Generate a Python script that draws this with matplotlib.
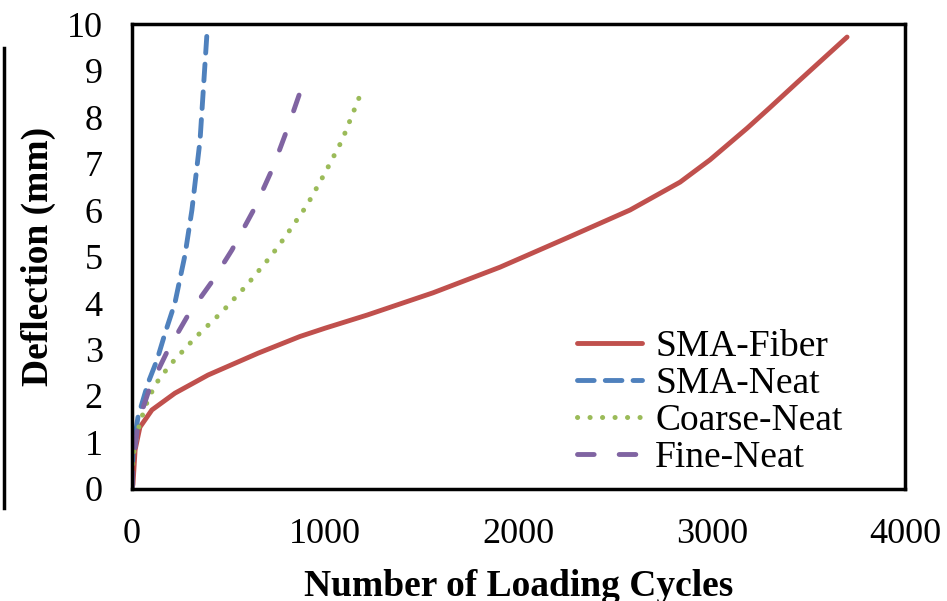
import matplotlib.pyplot as plt
from matplotlib.lines import Line2D

plt.rcParams['font.family'] = ['Liberation Serif', 'DejaVu Serif']
plt.rcParams['lines.scale_dashes'] = False

# Values
fiber_x = [0, 5, 16, 41, 103, 222, 393, 652, 869, 1000, 1216, 1558, 1904,
           2251, 2577, 2836, 2991, 3183, 3300, 3441, 3700]
fiber_y = [0, 0.1, 0.84, 1.33, 1.70, 2.06, 2.45, 2.92, 3.28, 3.46, 3.74, 4.22,
           4.77, 5.40, 6.0, 6.6, 7.08, 7.76, 8.2, 8.74, 9.72]

sma_neat_x = [0, 5, 31, 83, 129, 171, 222, 274, 310, 352, 388]
sma_neat_y = [0, 0.84, 1.55, 2.28, 2.77, 3.35, 4.0, 5.03, 6.0, 7.5, 9.81]

coarse_x = [0, 5, 31, 67, 119, 197, 326, 466, 595, 719, 792, 905, 999, 1087, 1185]
coarse_y = [0, 0.69, 1.27, 1.76, 2.24, 2.67, 3.25, 3.81, 4.39, 5.01, 5.42, 6.1, 6.8, 7.5, 8.52]

fine_x = [0, 5, 31, 93, 186, 290, 419, 517, 637, 730, 807, 895]
fine_y = [0, 0.47, 1.42, 2.19, 2.99, 3.74, 4.49, 5.14, 6.06, 6.92, 7.78, 8.84]

x_ticks = [0, 1000, 2000, 3000, 4000]
y_ticks = list(range(0, 11))

RED = '#C0504D'
BLUE = '#4F81BD'
GREEN = '#9BBB59'
PURPLE = '#8064A2'

fig = plt.figure(figsize=(9.47, 6.01), dpi=100)
ax = fig.add_axes([0.1394, 0.1864, 0.8163, 0.7736])

ax.plot(fiber_x, fiber_y, color=RED, lw=3.5, solid_capstyle='round',
        solid_joinstyle='round', label='SMA-Fiber')
ax.plot(sma_neat_x, sma_neat_y, color=BLUE, lw=3.5, dashes=(12, 8),
        dash_capstyle='round', label='SMA-Neat')
ax.plot(coarse_x, coarse_y, color=GREEN, lw=3.6, dashes=(0.1, 8.9),
        dash_capstyle='round', label='Coarse-Neat')
ax.plot(fine_x, fine_y, color=PURPLE, lw=3.5, dashes=(12, 18),
        dash_capstyle='round', label='Fine-Neat')

ax.set_xlim(0, 4000)
ax.set_ylim(0, 10)
ax.set_xticks(x_ticks)
ax.set_yticks(y_ticks)
ax.tick_params(length=0, labelsize=26, pad=21)
for s in ax.spines.values():
    s.set_linewidth(2.5)
    s.set_color('black')

ax.set_xlabel('Number of Loading Cycles', fontsize=27, fontweight='bold', labelpad=13)
ax.set_ylabel('Deflection (mm)', fontsize=27, fontweight='bold', labelpad=8)

ax.legend(loc='upper left', bbox_to_anchor=(0.575, 0.343), frameon=False,
          fontsize=27, handlelength=1.75, handletextpad=0.35, labelspacing=0.07,
          borderpad=0, borderaxespad=0)

# leftover frame line at the far left of the reference
fig.add_artist(Line2D([0.004, 0.004], [1 - 48 / 601, 1 - 508 / 601],
                      transform=fig.transFigure, color='black', lw=2.5))

fig.savefig('out.png', dpi=100)
